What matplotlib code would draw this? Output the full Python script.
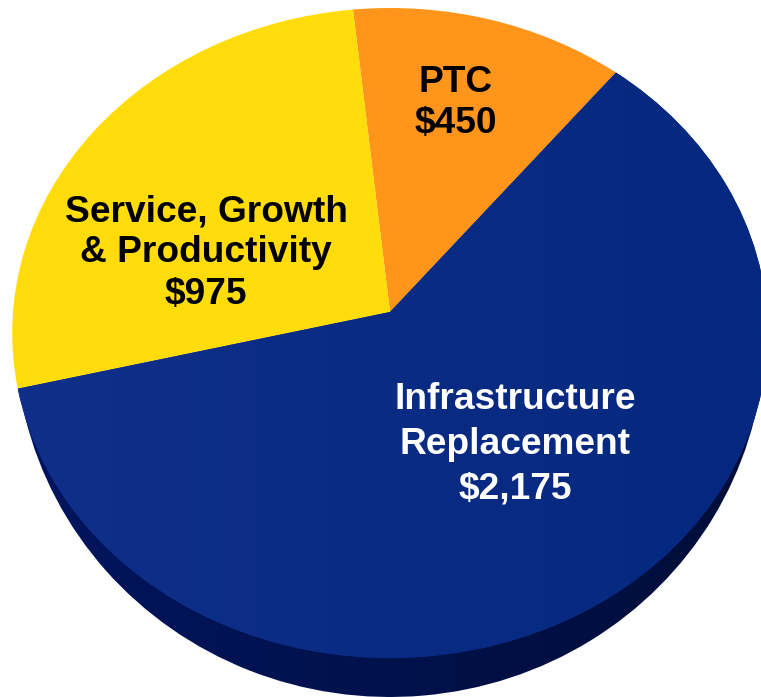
import matplotlib
matplotlib.use("Agg")
import matplotlib.pyplot as plt
from matplotlib.colors import LinearSegmentedColormap
from matplotlib.patches import PathPatch
from matplotlib.path import Path
import numpy as np

# order is counter clockwise from the PTC slice
labels = ["PTC\n$450", "Service, Growth\n& Productivity\n$975", "Infrastructure\nReplacement\n$2,175"]
values = [450, 975, 2175]
colors = ["#FF951A", "#FFDC0A", "#0A2C85"]
text_colors = ["black", "black", "white"]
label_x = [456, 206, 515]
label_y = [103, 253, 444]
line_gaps = [1.2, 1.23, 1.36]

CX, CY = 390, 333


def warp(path, a, b, c=0.0, k=0.0):
    """ Perspective map from the unit circle to pixel coordinates. """
    u, v = path.vertices[:, 0], path.vertices[:, 1]
    w = 1 + k * v
    pts = np.column_stack([CX + a * u / w, CY - (b * v + c) / w])
    return Path(pts, path.codes)


def gradient(ax, patch, left, right, extent):
    """ Fill a patch with a left to right colour fade. """
    cmap = LinearSegmentedColormap.from_list("fade", [left, right])
    im = ax.imshow(np.linspace(0, 1, 256).reshape(1, -1), cmap=cmap, extent=extent,
                   aspect="auto", interpolation="bilinear", zorder=patch.get_zorder())
    im.set_clip_path(patch)


fig = plt.figure(figsize=(7.61, 6.97), dpi=100)
ax = fig.add_axes([0, 0, 1, 1])
wedges, _ = ax.pie(values, colors=colors, startangle=51, radius=1, center=(0, 0))

# side of the disc, only the blue slice shows one
side = PathPatch(warp(wedges[2].get_path(), 375, 364), facecolor="none", edgecolor="none", zorder=1)
ax.add_patch(side)
gradient(ax, side, "#021560", "#000E38", (0, 761, 697, 400))

for i, wedge in enumerate(wedges):
    patch = PathPatch(warp(wedge.get_path(), 377, 325, 21, 0.0646),
                      facecolor=colors[i], edgecolor="none", zorder=2)
    ax.add_patch(patch)
    wedge.set_visible(False)
    if i == 2:
        gradient(ax, patch, "#102F8A", "#04287F", (0, 761, 697, 0))

for i in range(len(labels)):
    ax.text(label_x[i], label_y[i], labels[i], color=text_colors[i], ha="center", va="center",
            fontfamily="Liberation Sans", fontweight="bold", fontsize=26.7, linespacing=line_gaps[i], zorder=3)

ax.set_aspect("auto")
ax.set_xlim(0, 761)
ax.set_ylim(697, 0)
ax.axis("off")
fig.savefig("out.png", dpi=100)
